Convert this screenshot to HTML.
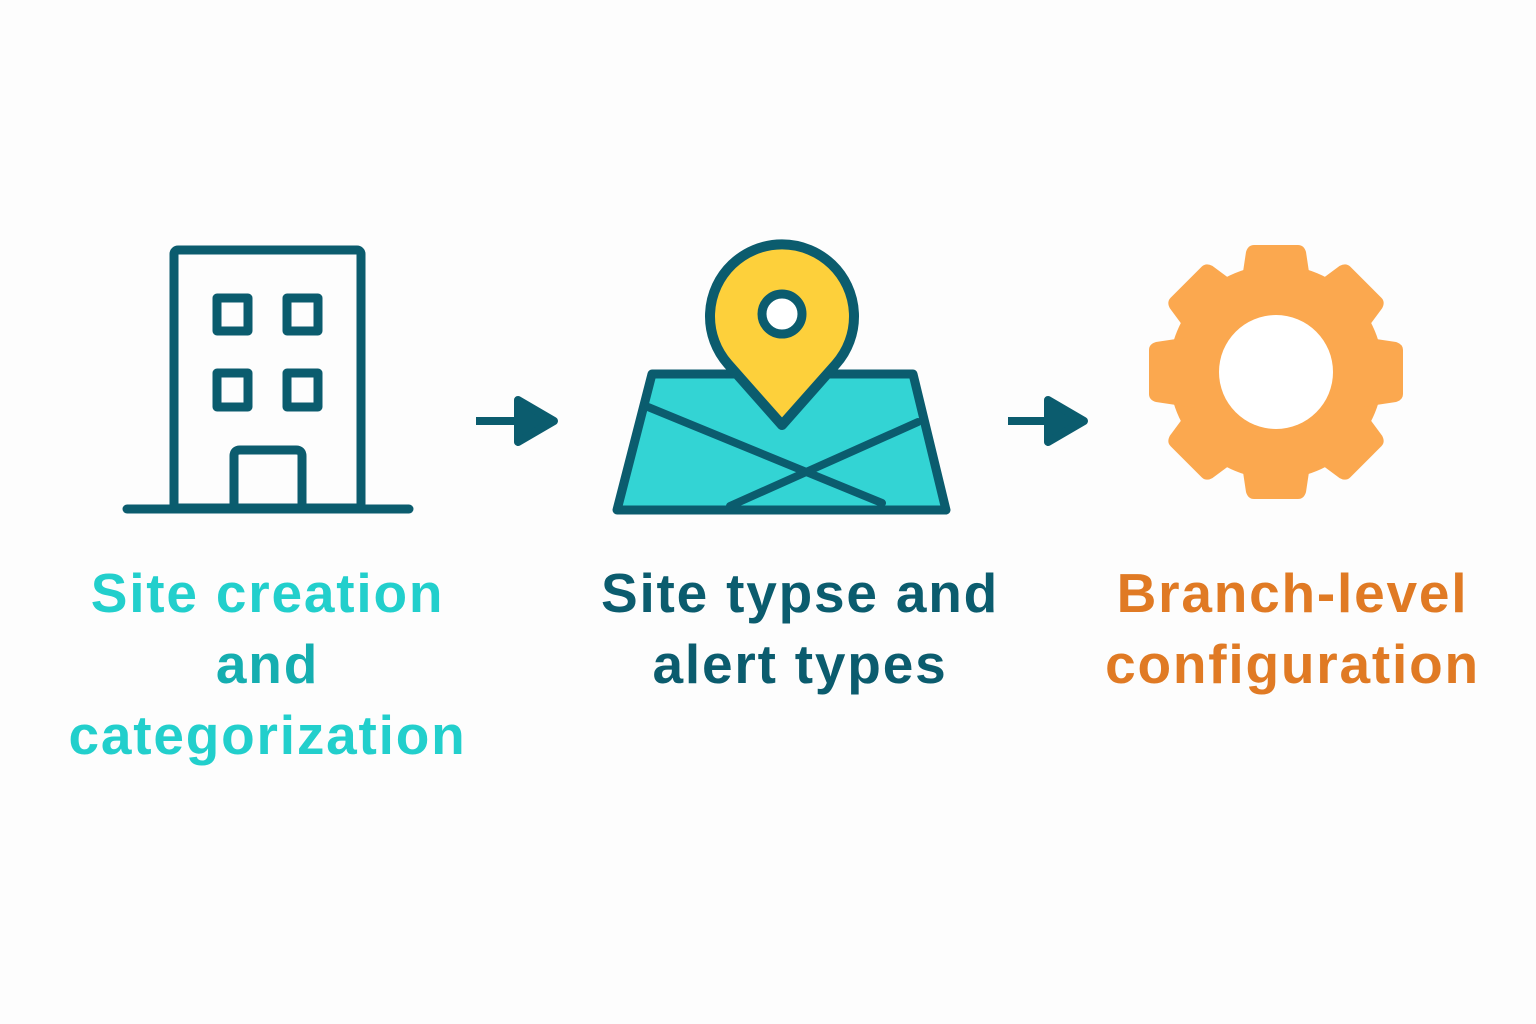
<!DOCTYPE html>
<html><head><style>
body{margin:0;width:1536px;height:1024px;background:#fdfdfd;overflow:hidden;position:relative;font-family:"Liberation Sans",sans-serif;font-weight:bold}
.t{position:absolute;text-align:center;font-size:55px;line-height:71px;letter-spacing:1.8px}
</style></head><body>
<svg width="1536" height="1024" style="position:absolute;left:0;top:0">
<g fill="none" stroke="#0b5c6e" stroke-width="9" stroke-linejoin="round" stroke-linecap="round">
<rect x="174" y="250" width="187" height="258" rx="4"/>
<rect x="217" y="298" width="31" height="33"/>
<rect x="287" y="298" width="31" height="33"/>
<rect x="217" y="373" width="31" height="34"/>
<rect x="287" y="373" width="31" height="34"/>
<path d="M234 508V456q0-6 6-6h56q6 0 6 6V508"/>
<line x1="127" y1="509" x2="409" y2="509"/>
</g>
<g stroke="#0b5c6e" stroke-width="8" fill="#0b5c6e">
<line x1="476" y1="421" x2="522" y2="421"/>
<path d="M518 400L554 421L518 442Z" stroke-linejoin="round"/>
<line x1="1008" y1="421" x2="1052" y2="421"/>
<path d="M1048 400L1084 421L1048 442Z" stroke-linejoin="round"/>
</g>
<path d="M652 374H913L946 510H617Z" fill="#33d4d4" stroke="#0b5c6e" stroke-width="9" stroke-linejoin="round"/>
<g stroke="#0b5c6e" stroke-width="8" stroke-linecap="round">
<line x1="648" y1="407" x2="882" y2="503"/>
<line x1="918" y1="422" x2="730" y2="506"/>
</g>
<path d="M782 425L728 364A72 72 0 1 1 836 364Z" fill="#fdd03b" stroke="#0b5c6e" stroke-width="10" stroke-linejoin="round"/>
<circle cx="782" cy="314" r="20" fill="#fff" stroke="#0b5c6e" stroke-width="9"/>
<g fill="#fba84f" transform="translate(1276,372)">
<circle r="107"/>
<g id="tt"><path d="M-22 -127H22Q28 -127 30 -120L36 -80H-36L-30 -120Q-28 -127 -22 -127Z"/></g>
<use href="#tt" transform="rotate(45)"/><use href="#tt" transform="rotate(90)"/><use href="#tt" transform="rotate(135)"/>
<use href="#tt" transform="rotate(180)"/><use href="#tt" transform="rotate(225)"/><use href="#tt" transform="rotate(270)"/><use href="#tt" transform="rotate(315)"/>
<circle r="57" fill="#fff"/>
</g>
</svg>
<div class="t" style="left:30px;width:475px;top:558px;color:#22cfcc">Site creation<br><span style="color:#15aeb0">and</span><br>categorization</div>
<div class="t" style="left:560px;width:480px;top:558px;color:#0b5c6e">Site typse and<br>alert types</div>
<div class="t" style="left:1050px;width:485px;top:558px;color:#e07a24">Branch-level<br>configuration</div>
</body></html>
